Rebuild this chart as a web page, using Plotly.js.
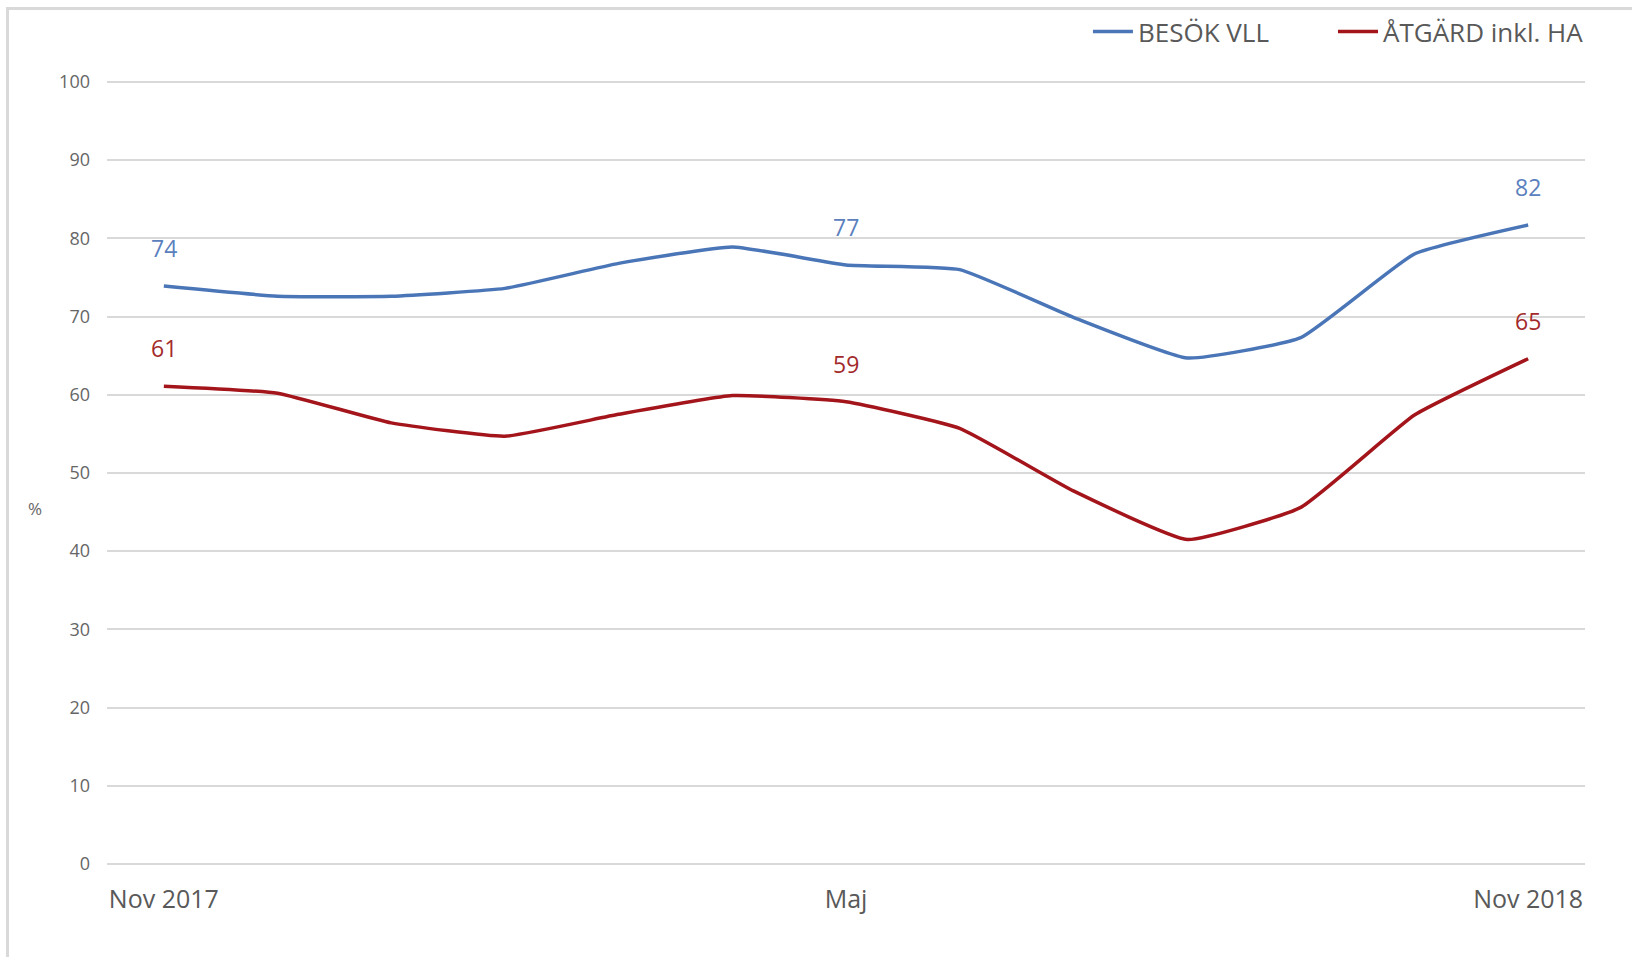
<!DOCTYPE html>
<html>
<head>
<meta charset="utf-8">
<script src="https://cdn.plot.ly/plotly-3.0.1.min.js"></script>
<style>
  html, body { margin: 0; padding: 0; background: #fff; }
  #chart { position: absolute; left: 0; top: 0; width: 1632px; height: 957px; }
  #frame { position: absolute; left: 6px; top: 7px; width: 1640px; height: 960px;
           border-left: 3px solid #d9d9d9; border-top: 3px solid #d9d9d9; pointer-events: none; }
</style>
</head>
<body>
<div id="chart"></div>
<div id="frame"></div>
<script>
// Months Nov 2017 .. Nov 2018
const months = ["Nov 2017", "Dec", "Jan", "Feb", "Mar", "Apr", "Maj", "Jun", "Jul", "Aug", "Sep", "Okt", "Nov 2018"];
const tickLabels = ["Nov 2017", "", "", "", "", "", "Maj", "", "", "", "", "", "Nov 2018"];
const besokVLL = [73.9, 72.6, 72.6, 73.6, 76.8, 78.9, 76.6, 76.0, 69.9, 64.7, 67.3, 78.0, 81.7];
const atgardHA = [61.1, 60.2, 56.4, 54.7, 57.5, 59.9, 59.1, 55.7, 47.7, 41.5, 45.6, 57.4, 64.6];
const besokLabels = ["74", "", "", "", "", "", "77", "", "", "", "", "", "82"];
const atgardLabels = ["61", "", "", "", "", "", "59", "", "", "", "", "", "65"];
const seriesNames = ["BESÖK VLL", "ÅTGÄRD inkl. HA"];
const yTicks = [0, 10, 20, 30, 40, 50, 60, 70, 80, 90, 100];

const blue = "#4A76B8";
const red = "#A3151B";
const idx = months.map((m, i) => i);

const traces = [
  { x: idx, y: besokVLL, name: seriesNames[0], type: "scatter", mode: "lines", legend: "legend",
    line: { color: blue, width: 3.5, shape: "spline", smoothing: 0.4 }, hoverinfo: "skip" },
  { x: idx, y: atgardHA, name: seriesNames[1], type: "scatter", mode: "lines", legend: "legend2",
    line: { color: red, width: 3.5, shape: "spline", smoothing: 0.4 }, hoverinfo: "skip" }
];

const annotations = [];
besokLabels.forEach((t, i) => {
  if (t) annotations.push({ x: i, y: besokVLL[i], xref: "x", yref: "y", text: t, showarrow: false,
    yshift: 38, font: { family: "Open Sans", size: 23, color: "#5A80BE" } });
});
atgardLabels.forEach((t, i) => {
  if (t) annotations.push({ x: i, y: atgardHA[i], xref: "x", yref: "y", text: t, showarrow: false,
    yshift: 38, font: { family: "Open Sans", size: 23, color: "#A32A2A" } });
});
annotations.push({ x: -0.049, xref: "paper", y: 45.5, yref: "y", text: "%", showarrow: false,
  xanchor: "center", yanchor: "middle", font: { family: "Open Sans", size: 17, color: "#666" } });

const legendCommon = { orientation: "h", xanchor: "left", y: 1.059, yanchor: "middle",
  font: { family: "Open Sans", size: 26, color: "#595959" }, bgcolor: "rgba(0,0,0,0)", itemwidth: 40 };

const layout = {
  width: 1632, height: 957,
  margin: { l: 107, r: 47, t: 77.5, b: 92.5, pad: 0, autoexpand: false },
  paper_bgcolor: "#fff", plot_bgcolor: "#fff",
  showlegend: true,
  legend: Object.assign({}, legendCommon, { x: 0.6637 }),
  legend2: Object.assign({}, legendCommon, { x: 0.8295 }),
  xaxis: { range: [-0.5, 12.5], tickmode: "array", tickvals: idx, ticktext: tickLabels,
    showgrid: false, zeroline: false, showline: false, ticks: "",
    ticklabelstandoff: 18, tickfont: { family: "Open Sans", size: 25, color: "#595959" }, fixedrange: true },
  yaxis: { range: [0, 100.5], tickmode: "array", tickvals: yTicks, ticktext: yTicks.map(String),
    showgrid: true, gridcolor: "#d9d9d9", gridwidth: 2, zeroline: true, zerolinecolor: "#d9d9d9", zerolinewidth: 2,
    showline: false, ticks: "", ticklabelstandoff: 16,
    tickfont: { family: "Open Sans", size: 18, color: "#666" }, fixedrange: true },
  annotations: annotations
};

Plotly.newPlot("chart", traces, layout, { displayModeBar: false, staticPlot: true });
</script>
</body>
</html>
